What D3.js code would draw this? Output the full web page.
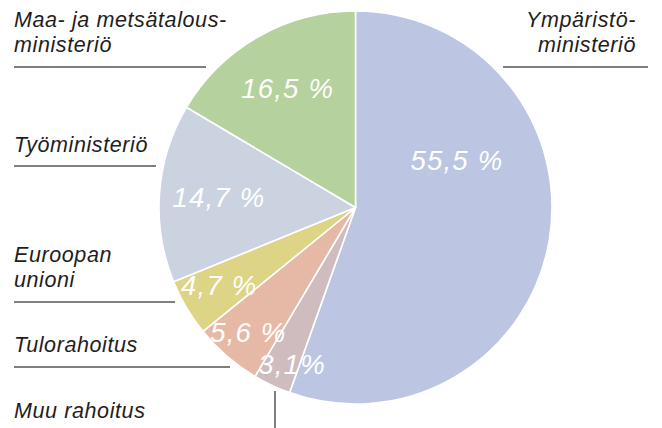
<!DOCTYPE html>
<html>
<head>
<meta charset="utf-8">
<script src="https://cdn.jsdelivr.net/npm/d3@7"></script>
<style>
	body { margin: 0; background: #fff; }
	svg text { font-family: "Liberation Sans", Arial, Helvetica, sans-serif; font-style: italic; }
</style>
</head>
<body>
<div id="chart"></div>
<script>
// slices, clockwise from 12 o'clock
var names = ["Ympäristöministeriö", "Muu rahoitus", "Tulorahoitus", "Euroopan unioni", "Työministeriö", "Maa- ja metsätalousministeriö"];
var shares = [55.5, 3.1, 5.6, 4.7, 14.7, 16.5];
var shareLabels = ["55,5 %", "3,1%", "5,6 %", "4,7 %", "14,7 %", "16,5 %"];
var colors = ["#bcc5e2", "#cfbcbf", "#e6b9a6", "#ddd486", "#cbd3e1", "#b5d19d"];

// outside labels (lines of text)
var nameLines = [
	["Ympäristö-", "ministeriö"],
	["Muu rahoitus"],
	["Tulorahoitus"],
	["Euroopan", "unioni"],
	["Työministeriö"],
	["Maa- ja metsätalous-", "ministeriö"]
];

var width = 662,
	height = 428;
var cx = 355.5,
	cy = 207.5,
	radius = 196.5;

// where inside labels sit: fraction of slice angle, distance from centre
var labelFrac = [0.325, 0.22, 0.5, 0.55, 0.5, 0.5];
var labelDist = [112, 169, 164, 157, 137, 137];

// outside label layout: x, first baseline, anchor, rule x1, x2, rule y
var nameLayout = [
	{ x: 636, y: 27, anchor: "end", x1: 503, x2: 648, ly: 67 },
	{ x: 14, y: 418, anchor: "start", vertical: true, lx: 275, y1: 391, y2: 428 },
	{ x: 14, y: 352, anchor: "start", x1: 14, x2: 230, ly: 367 },
	{ x: 14, y: 262, anchor: "start", x1: 14, x2: 175, ly: 302 },
	{ x: 14, y: 152, anchor: "start", x1: 14, x2: 156, ly: 166 },
	{ x: 14, y: 27, anchor: "start", x1: 14, x2: 206, ly: 67 }
];

var svg = d3.select("#chart").append("svg")
	.attr("width", width)
	.attr("height", height);

var pie = d3.pie().sort(null).value(function(d) { return d; });
var arcs = pie(shares);

var arc = d3.arc().innerRadius(0).outerRadius(radius);

var g = svg.append("g").attr("transform", "translate(" + cx + "," + cy + ")");

g.selectAll("path.slice")
	.data(arcs)
	.enter().append("path")
	.attr("class", "slice")
	.attr("d", arc)
	.attr("fill", function(d, i) { return colors[i]; })
	.attr("stroke", "#fff")
	.attr("stroke-width", 1.6)
	.attr("stroke-linejoin", "round");

g.selectAll("text.pct")
	.data(arcs)
	.enter().append("text")
	.attr("class", "pct")
	.attr("transform", function(d, i) {
		var a = d.startAngle + (d.endAngle - d.startAngle) * labelFrac[i];
		var x = Math.sin(a) * labelDist[i],
			y = -Math.cos(a) * labelDist[i];
		return "translate(" + x + "," + y + ")";
	})
	.attr("text-anchor", "middle")
	.attr("dy", "0.36em")
	.attr("fill", "#fff")
	.style("font-size", "27.5px")
	.style("letter-spacing", "1.2px")
	.text(function(d, i) { return shareLabels[i]; });

// outside labels
nameLayout.forEach(function(p, i) {
	var t = svg.append("text")
		.attr("x", p.x)
		.attr("y", p.y)
		.attr("text-anchor", p.anchor)
		.attr("fill", "#1e1e1e")
		.style("font-size", "21.5px")
		.style("letter-spacing", "0.6px");
	nameLines[i].forEach(function(s, j) {
		t.append("tspan")
			.attr("x", p.x)
			.attr("dy", j === 0 ? 0 : 25)
			.text(s);
	});

	if (p.vertical) {
		svg.append("line")
			.attr("x1", p.lx).attr("x2", p.lx)
			.attr("y1", p.y1).attr("y2", p.y2)
			.attr("stroke", "#555").attr("stroke-width", 1.5);
	} else {
		svg.append("line")
			.attr("x1", p.x1).attr("x2", p.x2)
			.attr("y1", p.ly).attr("y2", p.ly)
			.attr("stroke", "#555").attr("stroke-width", 1.5);
	}
});
</script>
</body>
</html>
